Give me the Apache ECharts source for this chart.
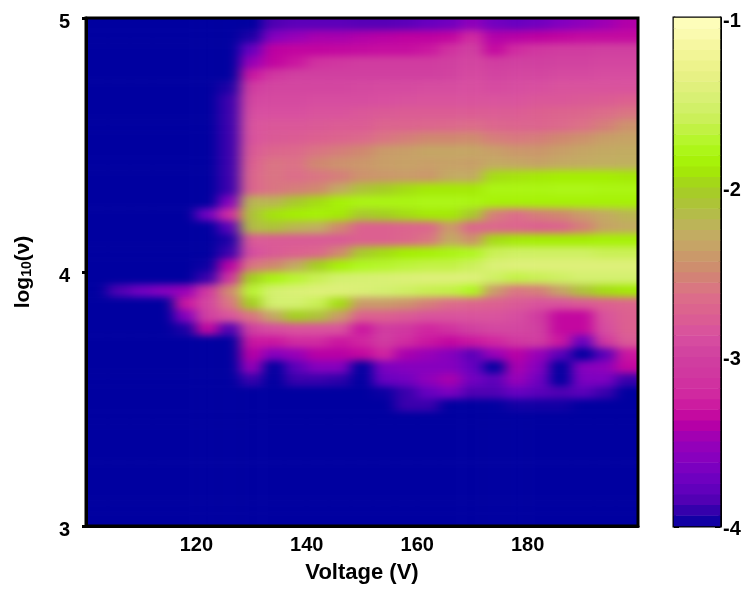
<!DOCTYPE html>
<html>
<head>
<meta charset="utf-8">
<style>
html,body{margin:0;padding:0;background:#fff}
#chart{width:750px;height:591px}
#chart canvas[data-zr-dom-id="zr_0"]{filter:url(#soft);clip-path:inset(18px 112px 65px 86px)}
</style>
<script src="https://cdn.jsdelivr.net/npm/echarts@6/dist/echarts.min.js"></script>
</head>
<body>
<svg width="0" height="0" style="position:absolute"><filter id="soft" x="-5%" y="-5%" width="110%" height="110%" color-interpolation-filters="sRGB"><feGaussianBlur stdDeviation="7 3.5"/></filter></svg>
<div id="chart"></div>
<script>
const voltage = [102,106,110,114,118,122,126,130,134,138,142,146,150,154,158,162,166,170,174,178,182,186,190,194,198];
const logNu = [4.975,4.925,4.875,4.825,4.775,4.725,4.675,4.625,4.575,4.525,4.475,4.425,4.375,4.325,4.275,4.225,4.175,4.125,4.075,4.025,3.975,3.925,3.875,3.825,3.775,3.725,3.675,3.625,3.575,3.525,3.475,3.425,3.375,3.325,3.275,3.225,3.175,3.125,3.075,3.025];
const logAmplitude = [
[-4,-4,-4,-4,-4,-4,-4,-4,-3.85,-3.8,-3.8,-3.8,-3.82,-3.82,-3.8,-3.75,-3.7,-3.55,-3.7,-3.75,-3.7,-3.62,-3.55,-3.48,-3.42],
[-4,-4,-4,-4,-4,-4,-4,-3.95,-3.6,-3.5,-3.45,-3.45,-3.42,-3.4,-3.38,-3.38,-3.36,-3.2,-3.42,-3.4,-3.38,-3.36,-3.34,-3.34,-3.34],
[-4,-4,-4,-4,-4,-4,-4,-3.75,-3.38,-3.36,-3.36,-3.35,-3.34,-3.33,-3.33,-3.3,-3.15,-3.0,-3.35,-3.2,-3.1,-3.05,-3.05,-3.0,-3.0],
[-4,-4,-4,-4,-4,-4,-4,-3.5,-3.36,-3.3,-3.15,-3.1,-3.05,-3.05,-3.05,-3.05,-3.0,-2.95,-3.05,-3.0,-3.0,-2.98,-2.98,-2.95,-2.95],
[-4,-4,-4,-4,-4,-4,-4,-3.3,-3.1,-3.0,-3.0,-3.0,-3.0,-3.0,-3.0,-3.0,-2.98,-2.92,-2.98,-2.95,-2.95,-2.92,-2.92,-2.9,-2.9],
[-4,-4,-4,-4,-4,-4,-3.95,-3.05,-2.95,-2.95,-2.95,-2.95,-2.93,-2.92,-2.92,-2.9,-2.9,-2.88,-2.92,-2.9,-2.88,-2.85,-2.85,-2.85,-2.85],
[-4,-4,-4,-4,-4,-4,-3.9,-2.95,-2.92,-2.92,-2.9,-2.9,-2.9,-2.88,-2.86,-2.85,-2.85,-2.85,-2.85,-2.85,-2.82,-2.82,-2.8,-2.78,-2.75],
[-4,-4,-4,-4,-4,-4,-3.9,-2.9,-2.88,-2.88,-2.85,-2.85,-2.82,-2.8,-2.78,-2.78,-2.78,-2.78,-2.78,-2.78,-2.75,-2.72,-2.7,-2.65,-2.6],
[-4,-4,-4,-4,-4,-4,-3.9,-2.85,-2.82,-2.82,-2.8,-2.78,-2.78,-2.72,-2.72,-2.7,-2.68,-2.65,-2.7,-2.72,-2.72,-2.68,-2.62,-2.55,-2.45],
[-4,-4,-4,-4,-4,-4,-3.9,-2.85,-2.8,-2.78,-2.75,-2.72,-2.68,-2.6,-2.55,-2.5,-2.5,-2.48,-2.55,-2.58,-2.55,-2.5,-2.45,-2.38,-2.35],
[-4,-4,-4,-4,-4,-4,-3.9,-2.8,-2.7,-2.68,-2.6,-2.55,-2.5,-2.4,-2.38,-2.33,-2.33,-2.33,-2.38,-2.42,-2.42,-2.38,-2.33,-2.3,-2.28],
[-4,-4,-4,-4,-4,-4,-3.9,-2.75,-2.6,-2.62,-2.5,-2.45,-2.42,-2.38,-2.36,-2.38,-2.36,-2.38,-2.3,-2.32,-2.35,-2.3,-2.28,-2.26,-2.25],
[-4,-4,-4,-4,-4,-4,-3.9,-2.7,-2.6,-2.65,-2.6,-2.55,-2.45,-2.42,-2.4,-2.42,-2.3,-2.3,-1.95,-1.92,-1.9,-1.88,-1.88,-1.88,-1.9],
[-4,-4,-4,-4,-4,-4,-3.9,-2.7,-2.6,-2.55,-2.5,-2.3,-2.1,-2.02,-1.95,-1.9,-1.9,-1.9,-1.8,-1.8,-1.8,-1.78,-1.78,-1.8,-1.8],
[-4,-4,-4,-4,-4,-4,-3.6,-2.2,-2.2,-2.05,-1.95,-1.85,-1.8,-1.8,-1.8,-1.78,-1.78,-1.8,-1.85,-1.85,-1.85,-1.85,-1.85,-1.85,-1.85],
[-4,-4,-4,-4,-4,-3.7,-3.2,-2.1,-1.92,-1.88,-1.85,-1.9,-2.05,-2.0,-1.95,-1.9,-1.9,-2.05,-2.55,-2.65,-2.55,-2.5,-2.4,-2.3,-2.2],
[-4,-4,-4,-4,-4,-4,-3.8,-2.15,-2.1,-2.2,-2.25,-2.5,-2.75,-2.75,-2.72,-2.7,-2.4,-2.7,-2.7,-2.72,-2.75,-2.72,-2.55,-2.35,-2.3],
[-4,-4,-4,-4,-4,-4,-3.95,-2.8,-2.8,-2.8,-2.8,-2.8,-2.75,-2.75,-2.7,-2.6,-2.3,-2.45,-1.95,-1.9,-1.88,-1.88,-1.88,-1.85,-1.85],
[-4,-4,-4,-4,-4,-4,-3.9,-2.9,-2.8,-2.75,-2.7,-2.5,-2.05,-1.95,-1.88,-1.85,-1.8,-1.75,-1.6,-1.55,-1.55,-1.55,-1.55,-1.6,-1.6],
[-4,-4,-4,-4,-4,-3.98,-3.4,-2.6,-2.5,-2.3,-2.0,-1.85,-1.75,-1.72,-1.68,-1.65,-1.65,-1.58,-1.45,-1.42,-1.42,-1.42,-1.42,-1.42,-1.42],
[-4,-4,-4,-4,-4,-3.9,-3.15,-2.0,-1.8,-1.7,-1.6,-1.5,-1.48,-1.46,-1.44,-1.42,-1.42,-1.42,-1.55,-1.65,-1.6,-1.55,-1.5,-1.5,-1.5],
[-4,-3.85,-3.7,-3.6,-3.5,-3.1,-2.5,-1.7,-1.5,-1.45,-1.42,-1.42,-1.45,-1.5,-1.55,-1.62,-1.65,-1.75,-2.4,-2.6,-2.55,-2.35,-2.1,-1.95,-1.9],
[-4,-4,-4,-4,-3.3,-2.95,-2.6,-2.0,-1.5,-1.5,-1.6,-1.95,-2.4,-2.4,-2.45,-2.55,-2.65,-2.7,-2.75,-2.8,-2.85,-2.85,-2.8,-2.75,-2.7],
[-4,-4,-4,-4,-3.6,-3.0,-2.85,-2.6,-2.3,-2.0,-2.1,-2.4,-2.75,-2.75,-2.8,-2.85,-2.85,-2.85,-2.85,-2.9,-3.05,-3.35,-3.35,-2.85,-2.75],
[-4,-4,-4,-4,-3.95,-3.35,-3.85,-3.0,-2.9,-2.85,-2.85,-2.85,-3.3,-3.05,-3.1,-3.25,-3.15,-3.0,-2.95,-2.95,-3.0,-3.35,-3.35,-2.9,-2.75],
[-4,-4,-4,-4,-4,-4,-4,-3.3,-3.3,-3.2,-3.2,-3.3,-3.25,-3.05,-3.2,-3.3,-3.35,-3.3,-3.25,-3.1,-3.05,-3.3,-3.75,-3.1,-2.8],
[-4,-4,-4,-4,-4,-4,-4,-3.4,-3.6,-3.5,-3.4,-3.4,-3.35,-3.25,-3.45,-3.5,-3.6,-3.8,-3.5,-3.4,-3.5,-3.8,-4,-3.8,-3.3],
[-4,-4,-4,-4,-4,-4,-4,-3.5,-4,-3.8,-3.6,-3.6,-4,-3.65,-3.6,-3.6,-3.6,-3.75,-4,-3.45,-3.6,-4,-3.6,-3.55,-3.35],
[-4,-4,-4,-4,-4,-4,-4,-3.9,-4,-3.9,-3.9,-3.92,-4,-3.75,-3.7,-3.55,-3.45,-3.7,-3.8,-3.5,-3.7,-4,-3.65,-3.65,-3.9],
[-4,-4,-4,-4,-4,-4,-4,-4,-4,-4,-4,-4,-4,-3.98,-3.9,-3.75,-3.65,-3.85,-3.85,-3.75,-3.8,-3.85,-3.8,-3.9,-4],
[-4,-4,-4,-4,-4,-4,-4,-4,-4,-4,-4,-4,-4,-4,-3.9,-3.9,-4,-4,-4,-3.97,-3.97,-3.97,-4,-4,-4],
[-4,-4,-4,-4,-4,-4,-4,-4,-4,-4,-4,-4,-4,-4,-4,-4,-4,-4,-4,-4,-4,-4,-4,-4,-4],
[-4,-4,-4,-4,-4,-4,-4,-4,-4,-4,-4,-4,-4,-4,-4,-4,-4,-4,-4,-4,-4,-4,-4,-4,-4],
[-4,-4,-4,-4,-4,-4,-4,-4,-4,-4,-4,-4,-4,-4,-4,-4,-4,-4,-4,-4,-4,-4,-4,-4,-4],
[-4,-4,-4,-4,-4,-4,-4,-4,-4,-4,-4,-4,-4,-4,-4,-4,-4,-4,-4,-4,-4,-4,-4,-4,-4],
[-4,-4,-4,-4,-4,-4,-4,-4,-4,-4,-4,-4,-4,-4,-4,-4,-4,-4,-4,-4,-4,-4,-4,-4,-4],
[-4,-4,-4,-4,-4,-4,-4,-4,-4,-4,-4,-4,-4,-4,-4,-4,-4,-4,-4,-4,-4,-4,-4,-4,-4],
[-4,-4,-4,-4,-4,-4,-4,-4,-4,-4,-4,-4,-4,-4,-4,-4,-4,-4,-4,-4,-4,-4,-4,-4,-4],
[-4,-4,-4,-4,-4,-4,-4,-4,-4,-4,-4,-4,-4,-4,-4,-4,-4,-4,-4,-4,-4,-4,-4,-4,-4],
[-4,-4,-4,-4,-4,-4,-4,-4,-4,-4,-4,-4,-4,-4,-4,-4,-4,-4,-4,-4,-4,-4,-4,-4,-4]
];
const colourBarLevels = [-3.97,-3.91,-3.84,-3.78,-3.72,-3.66,-3.59,-3.53,-3.47,-3.41,-3.34,-3.28,-3.22,-3.16,-3.09,-3.03,-2.97,-2.91,-2.84,-2.78,-2.72,-2.66,-2.59,-2.53,-2.47,-2.41,-2.34,-2.28,-2.22,-2.16,-2.09,-2.03,-1.97,-1.91,-1.84,-1.78,-1.72,-1.66,-1.59,-1.53,-1.47,-1.41,-1.34,-1.28,-1.22,-1.16,-1.09,-1.03];
const colourRamp = ['#0000A0','#4A00B0','#6800C0','#8200C0','#9800B8','#C000A0','#D025A0','#D035A0','#D040A0','#D850A0','#DC6090','#DC7088','#D08870','#C8A068','#C0B060','#B0C040','#A4D020','#A4F000','#B0F820','#C8F050','#D4F070','#E4F080','#F0F490','#F8F8A8','#FFFFC0'];
const plot = {left:86, top:18, width:552, height:508};
const bar = {left:674, top:18, width:46, height:508};
const FONT = '"Liberation Sans", Arial, sans-serif';

const nCols = voltage.length, nRows = logNu.length;
const cellW = plot.width / nCols, cellH = plot.height / nRows;
// one hidden cell on each side, repeating the edge values, keeps the smoothing even up to the frame
const xCats = ['', ...voltage.map(String), ' '];
const yCats = ['', ...logNu.map(String), ' '];
const heatData = [];
for (let r = -1; r <= nRows; r++) {
  const row = logAmplitude[Math.min(nRows - 1, Math.max(0, r))];
  for (let c = -1; c <= nCols; c++) {
    heatData.push([c + 1, r + 1, row[Math.min(nCols - 1, Math.max(0, c))]]);
  }
}
const barData = colourBarLevels.map((v, i) => [0, i, v]);
const labelStyle = {color:'#000', fontFamily:FONT, fontWeight:'bold', fontSize:20};
const frame = {show:true, lineStyle:{color:'#000', width:3}};

const chart = echarts.init(document.getElementById('chart'), null, {renderer:'canvas'});
chart.setOption({
  animation:false,
  backgroundColor:'transparent',
  grid:[
    {left:plot.left - cellW, top:plot.top - cellH, width:plot.width + 2*cellW, height:plot.height + 2*cellH, show:false},
    {left:plot.left, top:plot.top, width:plot.width, height:plot.height, show:true, borderColor:'#000', borderWidth:3, backgroundColor:'transparent', zlevel:1},
    {left:bar.left, top:bar.top, width:bar.width, height:bar.height, show:true, borderColor:'#000', borderWidth:3, backgroundColor:'transparent', zlevel:1}
  ],
  xAxis:[
    {type:'category', gridIndex:0, data:xCats, show:false},
    {type:'value', gridIndex:1, min:100, max:200, interval:20, zlevel:1,
     axisLine:frame, axisTick:{show:false}, splitLine:{show:false},
     axisLabel:{...labelStyle, margin:9, showMinLabel:false, showMaxLabel:false},
     name:'Voltage (V)', nameLocation:'middle', nameGap:36,
     nameTextStyle:{color:'#000', fontFamily:FONT, fontWeight:'bold', fontSize:22}},
    {type:'category', gridIndex:2, data:['level'], show:false}
  ],
  yAxis:[
    {type:'category', gridIndex:0, data:yCats, inverse:true, show:false},
    {type:'value', gridIndex:1, min:3, max:5, interval:1, zlevel:1,
     axisLine:frame, axisTick:{show:true, length:4, lineStyle:{color:'#000', width:3}}, splitLine:{show:false},
     axisLabel:{...labelStyle, margin:16, verticalAlign:'top', lineHeight:8},
     name:'{t|log}{s|10}{t|(ν)}', nameLocation:'middle', nameRotate:90, nameGap:52,
     nameTextStyle:{rich:{
       t:{color:'#000', fontFamily:FONT, fontWeight:'bold', fontSize:21},
       s:{color:'#000', fontFamily:FONT, fontWeight:'bold', fontSize:14, verticalAlign:'bottom', padding:[8,0,0,0]}
     }}},
    {type:'category', gridIndex:2, data:colourBarLevels.map(String), show:false},
    {type:'value', gridIndex:2, position:'right', min:-4, max:-1, interval:0.5, zlevel:1,
     axisLine:frame, axisTick:{show:true, inside:true, length:5, lineStyle:{color:'#000', width:3}}, splitLine:{show:false},
     axisLabel:{...labelStyle, margin:3, verticalAlign:'top', lineHeight:6, formatter:v => Number.isInteger(v) ? String(v) : ''}},
    {type:'value', gridIndex:2, position:'left', min:-4, max:-1, interval:0.5, zlevel:1,
     axisLine:frame, axisTick:{show:true, inside:true, length:5, lineStyle:{color:'#000', width:3}}, splitLine:{show:false},
     axisLabel:{show:false}}
  ],
  visualMap:{type:'continuous', show:false, min:-4, max:-1, dimension:2, seriesIndex:[0,1], inRange:{color:colourRamp}},
  series:[
    {type:'heatmap', xAxisIndex:0, yAxisIndex:0, data:heatData, progressive:0, zlevel:0, silent:true},
    {type:'heatmap', xAxisIndex:2, yAxisIndex:2, data:barData, progressive:0, zlevel:1, z:1, silent:true}
  ]
});
</script>
</body>
</html>
